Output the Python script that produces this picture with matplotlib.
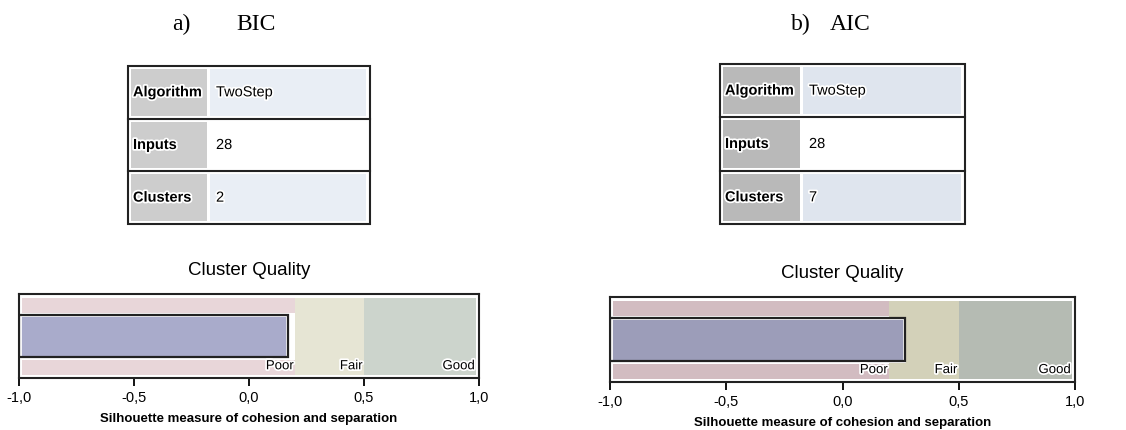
import matplotlib.pyplot as plt
import matplotlib.patches as mpatches
import matplotlib.patheffects as pe

# table content
row_labels = ['Algorithm', 'Inputs', 'Clusters']
values_bic = ['TwoStep', '28', '2']
values_aic = ['TwoStep', '28', '7']

# silhouette values and quality bands
silhouette = {'BIC': 0.17, 'AIC': 0.27}
band_names = ['Poor', 'Fair', 'Good']
band_edges = [-1.0, 0.2, 0.5, 1.0]
tick_vals = [-1.0, -0.5, 0.0, 0.5, 1.0]
tick_labels = ['-1,0', '-0,5', '0,0', '0,5', '1,0']

W, H = 1126, 430
fig = plt.figure(figsize=(W / 100, H / 100), dpi=100)
plt.rcParams['font.family'] = ['Liberation Sans', 'DejaVu Sans']
halo = [pe.withStroke(linewidth=2.5, foreground='white')]

# full-figure axes in pixel coords for headings and tables
bg = fig.add_axes([0, 0, 1, 1])
bg.set_xlim(0, W)
bg.set_ylim(H, 0)
bg.axis('off')

serif = ['Liberation Serif', 'DejaVu Serif']
bg.text(172, 30, 'a)', family=serif, fontsize=17, va='baseline')
bg.text(236, 30, 'BIC', family=serif, fontsize=17, va='baseline')
bg.text(791, 30, 'b)', family=serif, fontsize=17, va='baseline')
bg.text(830, 30, 'AIC', family=serif, fontsize=17, va='baseline')


def draw_table(x0, x1, y0, y1, split, values, lab_col, val_col):
    n = len(row_labels)
    rh = (y1 - y0) / n
    for i, (lab, val) in enumerate(zip(row_labels, values)):
        top = y0 + i * rh
        bg.add_patch(mpatches.Rectangle((x0 + 3, top + 3), split - x0 - 4, rh - 6,
                                        facecolor=lab_col, edgecolor='none'))
        vc = 'white' if i == 1 else val_col
        bg.add_patch(mpatches.Rectangle((split + 2, top + 3), x1 - split - 6, rh - 6,
                                        facecolor=vc, edgecolor='none'))
        bg.text(x0 + 5, top + rh / 2, lab, fontsize=10.5, fontweight='bold',
                va='center', ha='left', path_effects=halo)
        bg.text(split + 8, top + rh / 2, val, fontsize=10.5, va='center',
                ha='left', path_effects=halo)
        if i > 0:
            bg.plot([x0, x1], [top, top], color='#222222', lw=1.5)
    bg.add_patch(mpatches.Rectangle((x0, y0), x1 - x0, y1 - y0, facecolor='none',
                                    edgecolor='#222222', lw=1.5))


draw_table(128, 370, 66, 224, 208, values_bic, '#cdcdcd', '#e9eef5')
draw_table(720, 965, 64, 224, 801, values_aic, '#b9b9b9', '#dfe5ee')


def quality_chart(px0, px1, ptop, pbot, value, colors, bar_color):
    ax = fig.add_axes([px0 / W, (H - pbot) / H, (px1 - px0) / W, (pbot - ptop) / H])
    ax.set_xlim(-1, 1)
    ax.set_ylim(-0.5, 0.5)
    inset = 0.013
    for k, name in enumerate(band_names):
        lo, hi = band_edges[k], band_edges[k + 1]
        left = lo + (inset if k == 0 else 0)
        right = hi - (inset if k == 2 else 0)
        if name == 'Poor':
            ax.barh(0.363, right - left, height=0.178, left=left, color=colors[k], lw=0)
            ax.barh(-0.375, right - left, height=0.178, left=left, color=colors[k], lw=0)
        else:
            ax.barh(-0.006, right - left, height=0.916, left=left, color=colors[k], lw=0)
        ax.text(right - 0.006, -0.36, name, ha='right', va='center', fontsize=9.5,
                path_effects=halo)
    ax.barh(0, value + 1 - 0.012, height=0.5, left=-1 + 0.006, color=bar_color,
            edgecolor='white', lw=2)
    ax.barh(0, value + 1, height=0.5, left=-1, facecolor='none', edgecolor='#222222', lw=1.6)
    for s in ax.spines.values():
        s.set_linewidth(1.5)
        s.set_color('#222222')
    ax.set_yticks([])
    ax.set_xticks(tick_vals)
    ax.set_xticklabels(tick_labels, fontsize=10.5)
    ax.tick_params(axis='x', direction='out', length=6, width=1.3, pad=3)
    ax.set_title('Cluster Quality', fontsize=13.5, pad=14)
    ax.set_xlabel('Silhouette measure of cohesion and separation', fontsize=9.5,
                  fontweight='bold', labelpad=6)
    return ax


quality_chart(19, 479, 294, 378, silhouette['BIC'],
              ['#e8d6d9', '#e6e5d4', '#ccd4cc'], '#a9abcb')
quality_chart(610, 1075, 297, 382, silhouette['AIC'],
              ['#d2bcc1', '#d3d1b9', '#b5bbb3'], '#9c9db9')

fig.savefig('out.png', dpi=100, facecolor='white')
